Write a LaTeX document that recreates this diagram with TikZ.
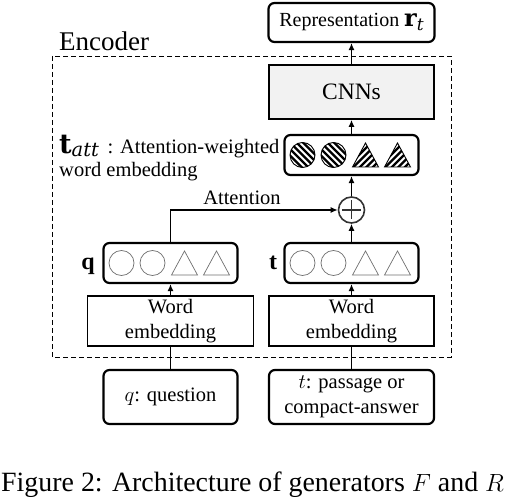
\documentclass[tikz,border=0pt]{standalone}
\usepackage{fontspec}
\setmainfont{Liberation Serif}
\newfontfamily\vecfont{DejaVu Serif}
\usetikzlibrary{arrows.meta}
\definecolor{cnnfill}{HTML}{F2F2F2}
\definecolor{icongray}{HTML}{6E6E6E}
\begin{document}
\begin{tikzpicture}[x=1pt,y=-1pt,
  rbox/.style={draw, line width=2.2pt, rounded corners=6pt, inner sep=0pt},
  sbox/.style={draw, line width=1.8pt, inner sep=0pt},
  arr/.style={line width=1.2pt, -{Latex[length=7pt,width=6pt]}},
  plainline/.style={line width=1.2pt},
  lbl/.style={font=\fontsize{20.5}{24.5}\selectfont, inner sep=0pt, align=center},
  plaincirc/.pic={\draw[icongray, line width=0.7pt] (0,0) circle (12.5);},
  plaintri/.pic={\draw[icongray, line width=0.7pt] (-13,12) -- (0,-12) -- (13,12) -- cycle;},
  hatchcirc/.pic={
    \begin{scope}
      \clip (0,0) circle (12.5);
      \foreach \d in {-19.5,-13,-6.5,0,6.5,13,19.5} \draw[line width=2.3pt] ({\d-20},-20) -- ({\d+20},20);
    \end{scope}
    \draw[line width=0.9pt] (0,0) circle (12.5);},
  hatchtri/.pic={
    \begin{scope}
      \clip (-13,12) -- (0,-12) -- (13,12) -- cycle;
      \foreach \d in {-19.5,-13,-6.5,0,6.5,13,19.5} \draw[line width=2.3pt] ({\d-20},20) -- ({\d+20},-20);
    \end{scope}
    \draw[line width=0.9pt] (-13,12) -- (0,-12) -- (13,12) -- cycle;},
]
\useasboundingbox (0,0) rectangle (509,497);

% encoder frame
\draw[dashed, line width=0.9pt, dash pattern=on 5pt off 3pt] (52,56) rectangle (451,357);
\node[anchor=base west, inner sep=0pt, font=\fontsize{27}{29}\selectfont] (enc) at (59,51) {Encoder};

% right column
\node[rbox, minimum width=166pt, minimum height=39pt, font=\fontsize{20}{22}\selectfont] (rep) at (351.5,22.5)
  {Representation {\vecfont\fontsize{24}{24}\selectfont\bfseries r}{\vecfont\fontsize{17}{17}\selectfont\itshape\raisebox{-4pt}{t}}};
\node[sbox, fill=cnnfill, minimum width=165pt, minimum height=54pt, font=\fontsize{23.5}{26}\selectfont] (cnn) at (351.5,92) {CNNs};
\node[rbox, minimum width=134pt, minimum height=40pt] (tatt) at (351.5,155) {};
\node[draw=black!80, line width=1.6pt, circle, minimum size=26pt, inner sep=0pt] (oplus) at (351.5,210) {};
\draw[black!80, line width=1.6pt] (342,210) -- (361,210) (351.5,200.5) -- (351.5,219.5);
\node[rbox, minimum width=134pt, minimum height=40pt] (tv) at (351.5,263) {};
\node[sbox, minimum width=165pt, minimum height=50pt, lbl] (twe) at (351.5,321) {Word\\embedding};
\node[rbox, minimum width=165pt, minimum height=54pt, lbl] (tin) at (351.5,397) {$t$: passage or\\compact-answer};

% left column
\node[rbox, minimum width=134pt, minimum height=40pt] (qv) at (170.5,263) {};
\node[sbox, minimum width=166pt, minimum height=50pt, lbl] (qwe) at (170.5,321) {Word\\embedding};
\node[rbox, minimum width=134pt, minimum height=54pt, lbl] (qin) at (170.5,397) {$q$: question};

% icons
\foreach \cx/\cy/\kind in {170.5/263/plain, 351.5/263/plain, 351.5/155/hatch} {
  \pic at ({\cx-49},\cy) {\kind circ};
  \pic at ({\cx-18},\cy) {\kind circ};
  \pic at ({\cx+14},\cy) {\kind tri};
  \pic at ({\cx+46},\cy) {\kind tri};
}

% labels
\node[anchor=base, inner sep=0pt, font=\fontsize{24}{24}\selectfont\bfseries] (qlab) at (88,270) {q};
\node[anchor=base, inner sep=0pt, font=\fontsize{24}{24}\selectfont\bfseries] (tlab) at (273,270) {t};
\node[anchor=base west, inner sep=0pt, font=\fontsize{20.5}{22}\selectfont] (tattl1) at (59,154)
  {{\vecfont\fontsize{27}{27}\selectfont\bfseries t}{\vecfont\fontsize{19.5}{19.5}\selectfont\itshape\raisebox{-3pt}{att}}\ \,: Attention-weighted};
\node[anchor=base west, inner sep=0pt, font=\fontsize{20.5}{22}\selectfont] (tattl2) at (59,177) {word embedding};
\node[anchor=base, inner sep=0pt, font=\fontsize{20.5}{22}\selectfont] (attl) at (242,205) {Attention};

% connectors
\draw[arr] (cnn) -- (rep);
\draw[arr] (tatt) -- (cnn);
\draw[arr] (oplus) -- (tatt);
\draw[arr] (tv) -- (oplus);
\draw[arr] (qv.north) |- (oplus.west);
\draw[arr] (qwe) -- (qv);
\draw[arr] (twe) -- (tv);
\draw[plainline] (qin) -- (qwe);
\draw[plainline] (tin) -- (twe);

% caption
\node[anchor=base west, inner sep=0pt, font=\fontsize{27.9}{30}\selectfont] (cap) at (1,491)
  {Figure 2: Architecture of generators $F$ and $R$};
\end{tikzpicture}
\end{document}
